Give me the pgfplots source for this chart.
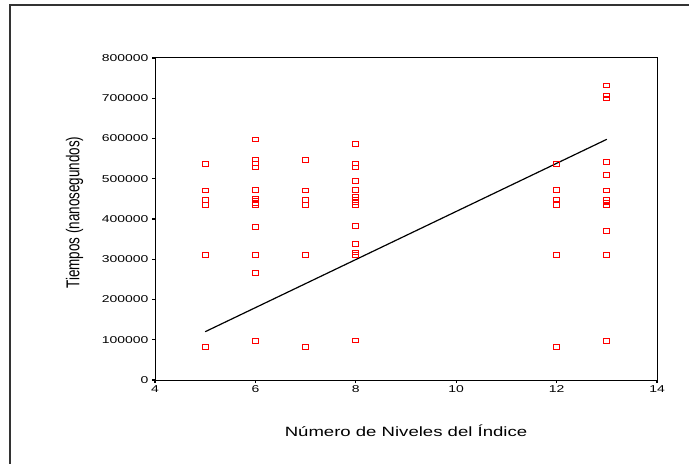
\documentclass[border=0pt]{standalone}
\usepackage{fontspec}
\setmainfont{Liberation Sans}
\usepackage{graphicx}
\usepackage{pgfplots}
\pgfplotsset{compat=1.18}
\begin{document}
\begin{tikzpicture}
\useasboundingbox (0,0) rectangle (689bp,464bp);
\draw[line width=1.4bp, black!80] (10bp,0) -- (10bp,459bp) -- (689bp,459bp);
\begin{axis}[
  at={(155bp,84bp)}, anchor=south west,
  scale only axis, width=502bp, height=322bp,
  xmin=4, xmax=14, ymin=0, ymax=800000,
  xtick={4,6,8,10,12,14},
  ytick={0,100000,200000,300000,400000,500000,600000,700000,800000},
  scaled y ticks=false,
  tick align=outside, xtick pos=left, ytick pos=left,
  major tick length=3bp,
  tick style={line width=1.2bp, black},
  axis line style={line width=1bp, black},
  xticklabel={\scalebox{1.4}[1]{\pgfmathprintnumber[fixed,precision=0,1000 sep={},assume math mode=true]{\tick}}},
  yticklabel={\scalebox{1.4}[1]{\pgfmathprintnumber[fixed,precision=0,1000 sep={},assume math mode=true]{\tick}}},
  tick label style={font=\fontsize{10}{12}\selectfont},
  xticklabel style={yshift=1bp},
  yticklabel style={xshift=0bp},
  xlabel={\scalebox{1.38}[1]{Número de Niveles del Índice}},
  ylabel={\scalebox{1}[1.38]{Tiempos (nanosegundos)}},
  label style={font=\fontsize{13.5}{16}\selectfont},
  xlabel style={at={(axis description cs:0.5,-0.158)}, anchor=center},
  ylabel style={at={(axis description cs:-0.16,0.52)}, anchor=center},
]
\addplot[only marks, mark=square, mark size=2.3bp, red, mark options={line width=0.9bp, xscale=1.3}] coordinates {
(5,536700) (5,471200) (5,447200) (5,435600) (5,311400) (5,82800)
(6,598000) (6,548300) (6,538300) (6,528400) (6,472900) (6,450500) (6,445600) (6,440600) (6,435600) (6,380100) (6,311400) (6,265800) (6,97700)
(7,547400) (7,471200) (7,447200) (7,435600) (7,311400) (7,82800)
(8,587200) (8,538300) (8,528400) (8,494400) (8,472900) (8,455500) (8,448000) (8,441400) (8,435600) (8,382600) (8,337900) (8,317200) (8,311400) (8,98600)
(12,536600) (12,472900) (12,449000) (12,435600) (12,311400) (12,82800)
(13,731300) (13,706500) (13,699800) (13,542400) (13,510100) (13,471200) (13,448000) (13,441400) (13,433900) (13,370200) (13,311400) (13,97000)
};
\addplot[black, line width=1.2bp, mark=none] coordinates {(5,120000) (13,598000)};
\end{axis}
\end{tikzpicture}
\end{document}
